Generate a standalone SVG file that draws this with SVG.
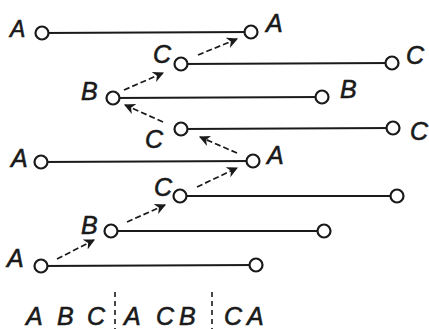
<svg xmlns="http://www.w3.org/2000/svg" width="429" height="329" viewBox="0 0 429 329">
<defs>
<style>
.ln{stroke:#1a1a1a;stroke-width:2.2;fill:none}
.nd{stroke:#1a1a1a;stroke-width:2.2;fill:#fff}
.ar{stroke:#1a1a1a;stroke-width:1.7;fill:none;stroke-dasharray:6 3;marker-end:url(#ah)}
.sep{stroke:#1a1a1a;stroke-width:1.6;stroke-dasharray:5 4}
text{font-family:"Liberation Sans",Arial,sans-serif;font-style:italic;font-size:25px;fill:#1a1a1a;stroke:#1a1a1a;stroke-width:0.6}
</style>
<marker id="ah" viewBox="0 0 10 10" refX="9" refY="5" markerWidth="6.5" markerHeight="6.5" orient="auto" markerUnits="strokeWidth">
<path d="M0,0 L10,5 L0,10 L3,5 z" fill="#1a1a1a"/>
</marker>
</defs>
<rect width="429" height="329" fill="#fff"/>
<g id="connectors">
<line class="ln" x1="42" y1="33" x2="251" y2="32"/>
<line class="ln" x1="181" y1="64" x2="392" y2="63"/>
<line class="ln" x1="113" y1="98" x2="322" y2="97"/>
<line class="ln" x1="181" y1="129" x2="393" y2="128"/>
<line class="ln" x1="41" y1="162" x2="253" y2="161"/>
<line class="ln" x1="180" y1="196" x2="397" y2="196"/>
<line class="ln" x1="111" y1="231" x2="324" y2="231"/>
<line class="ln" x1="41" y1="266" x2="256" y2="265"/>
<line class="ar" x1="124" y1="90" x2="163" y2="73"/>
<line class="ar" x1="198" y1="55" x2="237" y2="39"/>
<line class="ar" x1="163" y1="122" x2="125" y2="105"/>
<line class="ar" x1="237" y1="153" x2="200" y2="137"/>
<line class="ar" x1="197" y1="187" x2="237" y2="168"/>
<line class="ar" x1="127" y1="222" x2="165" y2="205"/>
<line class="ar" x1="57" y1="259" x2="94" y2="240"/>
<line class="sep" x1="115" y1="292" x2="115" y2="329"/>
<line class="sep" x1="212" y1="292" x2="212" y2="329"/>
</g>
<g id="n1l"><circle class="nd" cx="42" cy="33" r="6.5"/><text x="10" y="37" style="font-size:23px">A</text></g>
<g id="n1r"><circle class="nd" cx="251" cy="32" r="6.5"/><text x="266" y="32">A</text></g>
<g id="n2l"><circle class="nd" cx="181" cy="64" r="6.5"/><text x="153" y="63">C</text></g>
<g id="n2r"><circle class="nd" cx="392" cy="63" r="6.5"/><text x="406" y="64">C</text></g>
<g id="n3l"><circle class="nd" cx="113" cy="98" r="6.5"/><text x="81" y="100">B</text></g>
<g id="n3r"><circle class="nd" cx="322" cy="97" r="6.5"/><text x="340" y="98">B</text></g>
<g id="n4l"><circle class="nd" cx="181" cy="129" r="6.5"/><text x="145" y="148">C</text></g>
<g id="n4r"><circle class="nd" cx="393" cy="128" r="6.5"/><text x="410" y="140">C</text></g>
<g id="n5l"><circle class="nd" cx="41" cy="162" r="6.5"/><text x="11" y="167">A</text></g>
<g id="n5r"><circle class="nd" cx="253" cy="161" r="6.5"/><text x="267" y="164">A</text></g>
<g id="n6l"><circle class="nd" cx="180" cy="196" r="6.5"/><text x="154" y="196">C</text></g>
<g id="n6r"><circle class="nd" cx="397" cy="196" r="6.5"/></g>
<g id="n7l"><circle class="nd" cx="111" cy="231" r="6.5"/><text x="81" y="234">B</text></g>
<g id="n7r"><circle class="nd" cx="324" cy="231" r="6.5"/></g>
<g id="n8l"><circle class="nd" cx="41" cy="266" r="6.5"/><text x="7" y="267">A</text></g>
<g id="n8r"><circle class="nd" cx="256" cy="265" r="6.5"/></g>
<g id="seq">
<text x="26" y="325">A</text>
<text x="57" y="325">B</text>
<text x="87" y="325">C</text>
<text x="124" y="325">A</text>
<text x="156" y="325">C</text>
<text x="179" y="325">B</text>
<text x="224" y="325">C</text>
<text x="247" y="325">A</text>
</g>
</svg>
